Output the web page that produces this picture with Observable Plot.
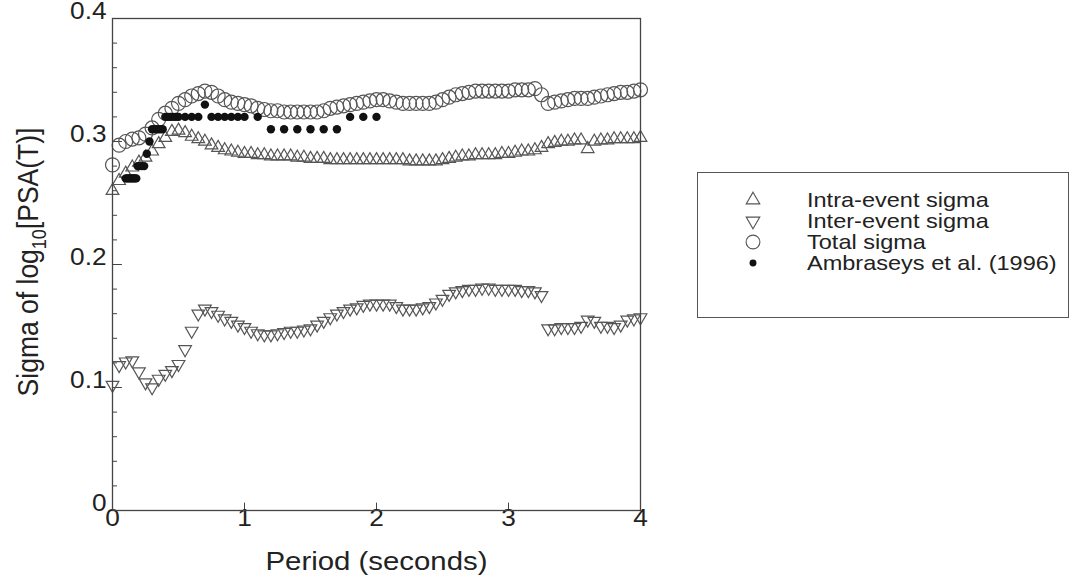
<!DOCTYPE html>
<html><head><meta charset="utf-8">
<script src="https://cdn.jsdelivr.net/npm/d3@7"></script>
<script src="https://cdn.jsdelivr.net/npm/@observablehq/plot@0.6"></script>
<style>
body{margin:0;background:#fff;font-family:"Liberation Sans",Arial,sans-serif;}
#wrap{position:relative;width:1072px;height:586px;overflow:hidden;}
#wrap > svg{position:absolute;left:0;top:0;}
#legend{position:absolute;left:697px;top:172px;width:372px;height:146px;border:1.2px solid #555;box-sizing:border-box;background:#fff;}
.sym{position:absolute;left:46px;width:18px;height:18px;}
.lab{position:absolute;left:109px;font-size:21px;line-height:20px;height:20px;color:#222;white-space:nowrap;transform:scaleX(1.12);transform-origin:left center;}
</style></head><body><div id="wrap"><div id="legend"></div></div>
<script>
const period = [0,0.05,0.1,0.15,0.2,0.25,0.3,0.35,0.4,0.45,0.5,0.55,0.6,0.65,0.7,0.75,0.8,0.85,0.9,0.95,
1,1.05,1.1,1.15,1.2,1.25,1.3,1.35,1.4,1.45,1.5,1.55,1.6,1.65,1.7,1.75,1.8,1.85,1.9,1.95,
2,2.05,2.1,2.15,2.2,2.25,2.3,2.35,2.4,2.45,2.5,2.55,2.6,2.65,2.7,2.75,2.8,2.85,2.9,2.95,
3,3.05,3.1,3.15,3.2,3.25,3.3,3.35,3.4,3.45,3.5,3.55,3.6,3.65,3.7,3.75,3.8,3.85,3.9,3.95,4];
const intraSigma = [0.260,0.268,0.274,0.279,0.283,0.287,0.292,0.298,0.303,0.308,0.309,0.307,0.304,0.302,0.300,0.297,0.295,0.293,0.292,0.291,
0.290,0.290,0.289,0.289,0.288,0.288,0.288,0.288,0.287,0.287,0.286,0.286,0.286,0.285,0.285,0.285,0.285,0.285,0.285,0.285,
0.285,0.285,0.285,0.285,0.285,0.284,0.284,0.284,0.284,0.284,0.285,0.286,0.287,0.288,0.288,0.289,0.289,0.289,0.289,0.290,
0.290,0.291,0.292,0.292,0.293,0.295,0.298,0.299,0.300,0.300,0.301,0.301,0.294,0.300,0.301,0.301,0.302,0.302,0.302,0.302,0.303];
const interSigma = [0.102,0.118,0.121,0.122,0.113,0.104,0.100,0.107,0.111,0.114,0.119,0.131,0.146,0.160,0.164,0.162,0.159,0.156,0.154,0.151,
0.149,0.146,0.144,0.143,0.143,0.144,0.145,0.146,0.146,0.147,0.148,0.151,0.154,0.157,0.160,0.162,0.164,0.165,0.167,0.168,
0.168,0.168,0.168,0.166,0.164,0.164,0.164,0.165,0.166,0.169,0.172,0.176,0.178,0.179,0.180,0.180,0.181,0.181,0.180,0.180,
0.180,0.180,0.179,0.179,0.178,0.175,0.148,0.148,0.149,0.149,0.149,0.150,0.155,0.154,0.150,0.150,0.149,0.151,0.155,0.156,0.157];
const totalSigma = [0.281,0.297,0.300,0.302,0.303,0.306,0.311,0.318,0.323,0.327,0.331,0.334,0.337,0.339,0.341,0.340,0.337,0.334,0.332,0.331,
0.330,0.329,0.327,0.326,0.325,0.325,0.324,0.324,0.324,0.324,0.324,0.324,0.325,0.327,0.328,0.329,0.330,0.331,0.332,0.333,
0.334,0.334,0.333,0.332,0.331,0.331,0.331,0.331,0.331,0.332,0.334,0.336,0.338,0.339,0.340,0.341,0.341,0.341,0.341,0.341,
0.341,0.342,0.342,0.342,0.343,0.338,0.331,0.332,0.333,0.334,0.335,0.335,0.335,0.336,0.337,0.338,0.339,0.340,0.340,0.341,0.342];
const ambPeriod = [0.10,0.11,0.12,0.13,0.14,0.15,0.16,0.17,0.18,0.19,0.20,0.22,0.24,0.26,0.28,0.30,0.32,0.34,0.36,0.38,
0.40,0.42,0.44,0.46,0.48,0.50,0.55,0.60,0.65,0.70,0.75,0.80,0.85,0.90,0.95,1.0,1.1,1.2,1.3,1.4,1.5,1.6,1.7,1.8,1.9,2.0];
const ambSigma = [0.27,0.27,0.27,0.27,0.27,0.27,0.27,0.27,0.27,0.28,0.28,0.28,0.28,0.29,0.30,0.31,0.31,0.31,0.31,0.31,
0.32,0.32,0.32,0.32,0.32,0.32,0.32,0.32,0.32,0.33,0.32,0.32,0.32,0.32,0.32,0.32,0.32,0.31,0.31,0.31,0.31,0.31,0.31,0.32,0.32,0.32];
const yTicks = [0,0.1,0.2,0.3,0.4];
const yMinor = [0.02,0.04,0.06,0.08,0.12,0.14,0.16,0.18,0.22,0.24,0.26,0.28,0.32,0.34,0.36,0.38];
const xTicks = [0,1,2,3,4];
const legendLabels = ["Intra-event sigma","Inter-event sigma","Total sigma","Ambraseys et al. (1996)"];

const rows = period.map((p,i)=>({period:p, intra:intraSigma[i], inter:interSigma[i], total:totalSigma[i]}));
const amb = ambPeriod.map((p,i)=>({period:p, sigma:ambSigma[i]}));

const triDown = {
  draw(context, size) {
    const s3 = Math.sqrt(3);
    const y = -Math.sqrt(size / (s3 * 3));
    context.moveTo(0, -y * 2);
    context.lineTo(-s3 * y, y);
    context.lineTo(s3 * y, y);
    context.closePath();
  }
};
const mk = "#555";
const chart = Plot.plot({
  width: 1072, height: 586,
  marginLeft: 112, marginRight: 432, marginTop: 18, marginBottom: 76,
  style: {fontFamily: "'Liberation Sans', Arial, sans-serif", fontSize: "23px", color: "#222", background: "transparent"},
  x: {domain: [0, 4]},
  y: {domain: [0, 0.4]},
  marks: [
    Plot.ruleY(yTicks, {y: d => d, x1: 0, x2: 0.075, stroke: "#444"}),
    Plot.ruleY(yMinor, {y: d => d, x1: 0, x2: 0.038, stroke: "#444"}),
    Plot.ruleX(xTicks, {x: d => d, y1: 0, y2: 0.006, stroke: "#444"}),
    Plot.axisY(yTicks, {tickSize: 0, tickPadding: 6, tickFormat: d => String(d), label: null}),
    Plot.axisX(xTicks, {tickSize: 0, tickPadding: 15, tickFormat: d => String(d), label: null}),
    Plot.text(["Period (seconds)"], {frameAnchor: "bottom", lineAnchor: "middle", dy: 59, fontSize: 26, fill: "#222"}),
    Plot.dot(rows, {x: "period", y: "total", r: 7, stroke: mk, fill: "none", strokeWidth: 1.2}),
    Plot.dot(rows, {x: "period", y: "intra", symbol: "triangle", r: 4.7, stroke: mk, fill: "none", strokeWidth: 1.2}),
    Plot.dot(rows, {x: "period", y: "inter", symbol: triDown, r: 4.7, stroke: mk, fill: "none", strokeWidth: 1.2}),
    Plot.dot(amb, {x: "period", y: "sigma", r: 4.2, fill: "#111", stroke: "none"}),
    Plot.frame({stroke: "#444", strokeWidth: 1.3})
  ]
});
document.getElementById("wrap").prepend(chart);

// horizontal stretch of texts, matching the reference's wide lettering
function stretch(el, k) {
  const x = +el.getAttribute("x") || 0, y = +el.getAttribute("y") || 0;
  el.removeAttribute("x"); el.removeAttribute("y");
  const t = el.getAttribute("transform") || "";
  el.setAttribute("transform", `${t} translate(${x},${y}) scale(${k},1)`);
}
const svg = d3.select(chart);
svg.selectAll("g[aria-label='y-axis tick label'] text").each(function(){ stretch(this, 1.14); });
svg.selectAll("g[aria-label='x-axis tick label'] text").each(function(){ stretch(this, 1.14); });
svg.selectAll("g[aria-label='text'] text").each(function(){ stretch(this, 1.13); });

const t = svg.append("text")
  .attr("transform", "translate(38,262) rotate(-90) scale(1,1.13)")
  .attr("text-anchor", "middle")
  .attr("font-size", 26.5)
  .attr("fill", "#222");
t.append("tspan").text("Sigma of log");
t.append("tspan").attr("font-size", 18).attr("dy", 7).text("10");
t.append("tspan").attr("dy", -7).text("[PSA(T)]");

// legend
const legend = d3.select("#legend");
const symbolPaths = [
  d3.symbol(d3.symbolTriangle, 80)(),
  d3.symbol(triDown, 80)(),
  d3.symbol(d3.symbolCircle, 150)(),
  d3.symbol(d3.symbolCircle, 38)()
];
const rowTop = [17, 38, 59, 80];
legendLabels.forEach((lab, i) => {
  const s = legend.append("svg").attr("class", "sym").style("top", (rowTop[i] + 1) + "px")
    .attr("viewBox", "-9 -9 18 18");
  s.append("path").attr("d", symbolPaths[i])
    .attr("fill", i === 3 ? "#111" : "none")
    .attr("stroke", i === 3 ? "none" : mk)
    .attr("stroke-width", 1.1);
  legend.append("div").attr("class", "lab").style("top", rowTop[i] + "px").text(lab);
});
</script>
</body></html>
